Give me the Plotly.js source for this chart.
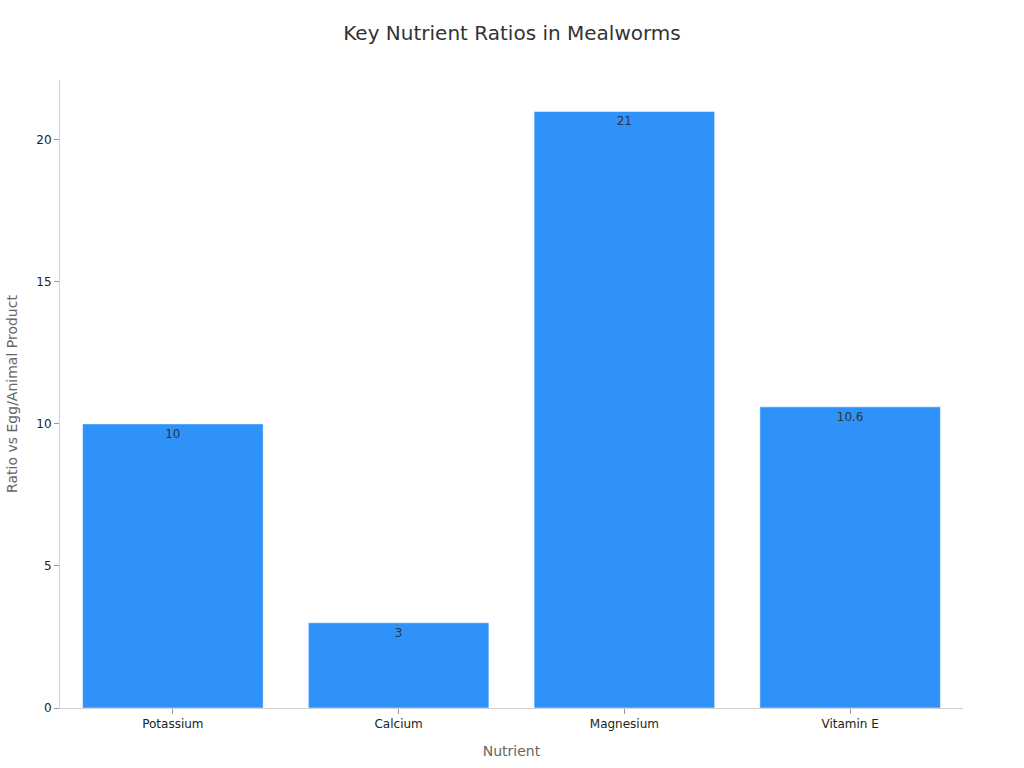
<!DOCTYPE html>
<html>
<head>
<meta charset="utf-8">
<script src="https://cdn.plot.ly/plotly-3.0.1.min.js"></script>
<style>
  html, body { margin: 0; padding: 0; background: #fff; }
  #chart { width: 1024px; height: 768px; }
</style>
</head>
<body>
<div id="chart"></div>
<script>
// Key nutrient ratios, mealworms vs egg/animal product
const nutrients = ['Potassium', 'Calcium', 'Magnesium', 'Vitamin E'];
const ratios    = [10, 3, 21, 10.6];
const labels    = ['10', '3', '21', '10.6'];

const trace = {
  type: 'bar',
  x: nutrients,
  y: ratios,
  text: labels,
  textposition: 'inside',
  insidetextanchor: 'end',
  textfont: { family: 'DejaVu Sans, sans-serif', size: 12, color: '#333333' },
  marker: {
    color: '#2f92f8',
    line: { color: 'rgba(255,255,255,0.5)', width: 1 },
  },
  hoverinfo: 'x+y',
};

const layout = {
  width: 1024, height: 768,
  font: { family: 'DejaVu Sans, sans-serif', size: 12, color: '#333' },
  title: {
    text: 'Key Nutrient Ratios in Mealworms',
    font: { size: 20, color: '#333' },
    x: 0.5, xanchor: 'center', y: 0.957, yanchor: 'middle',
  },
  margin: { l: 60, r: 61, t: 80, b: 60 },
  bargap: 0.2,
  xaxis: {
    title: { text: 'Nutrient', font: { size: 14, color: '#666' }, standoff: 15 },
    showline: true, linecolor: '#d0d0d0', linewidth: 1,
    ticks: 'outside', tickcolor: '#999', ticklen: 5,
    tickfont: { size: 12, color: '#222' },
    showgrid: false,
  },
  yaxis: {
    title: { text: 'Ratio vs Egg/Animal Product', font: { size: 14, color: '#666' }, standoff: 15 },
    showline: true, linecolor: '#d0d0d0', linewidth: 1,
    ticks: 'outside', tickcolor: '#999', ticklen: 5,
    tickfont: { size: 12, color: '#222' },
    showgrid: false, zeroline: false,
    dtick: 5, rangemode: 'tozero',
  },
  paper_bgcolor: 'white', plot_bgcolor: 'white',
  showlegend: false,
};

Plotly.newPlot('chart', [trace], layout, { displayModeBar: false, staticPlot: true });
</script>
</body>
</html>
